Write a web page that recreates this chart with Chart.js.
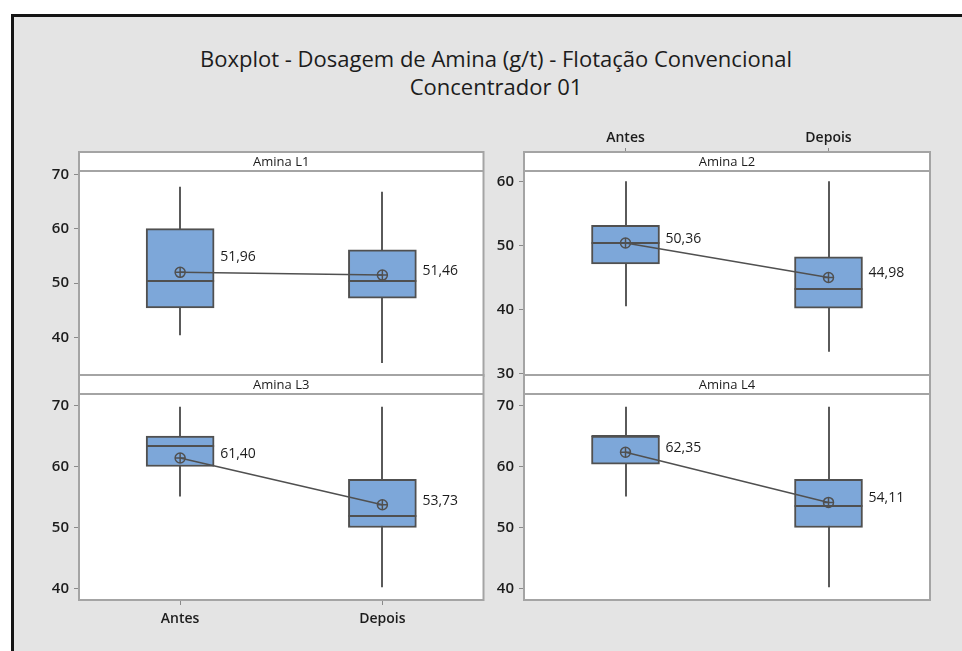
<!DOCTYPE html>
<html>
<head>
<meta charset="utf-8">
<script src="https://cdn.jsdelivr.net/npm/chart.js@4.4.0/dist/chart.umd.min.js"></script>
<style>
  html, body { margin: 0; padding: 0; background: #ffffff; width: 962px; height: 651px; overflow: hidden; }
  #frame { position: absolute; left: 11px; top: 14px; width: 1000px; height: 700px; border: 3px solid #141414; background: #e4e4e4; box-sizing: border-box; }
  #title { position: absolute; left: 0; width: 992px; top: 44px; text-align: center; font-family: "Open Sans", sans-serif; font-size: 22px; line-height: 28px; color: #1c1c1c; }
  canvas { position: absolute; }
</style>
</head>
<body>
<div id="frame"></div>
<div id="title">Boxplot - Dosagem de Amina (g/t) - Flotação Convencional<br>Concentrador 01</div>
<canvas id="p1" width="460" height="260" style="left:30px;top:130px"></canvas>
<canvas id="p2" width="465" height="280" style="left:475px;top:110px"></canvas>
<canvas id="p3" width="460" height="281" style="left:30px;top:370px"></canvas>
<canvas id="p4" width="465" height="281" style="left:475px;top:370px"></canvas>
<script>
// Categories and panel names
const categories = ['Antes', 'Depois'];
const panelNames = ['Amina L1', 'Amina L2', 'Amina L3', 'Amina L4'];

// Box statistics per panel (rows: L1..L4, columns: Antes, Depois)
const whiskerLow  = [[40.4, 35.3], [40.5, 33.4], [55.1, 40.2], [55.1, 40.2]];
const q1          = [[45.4, 47.2], [47.1, 40.2], [60.0, 50.0], [60.4, 50.0]];
const medians     = [[50.3, 50.3], [50.3, 43.2], [63.4, 51.9], [65.0, 53.6]];
const q3          = [[60.0, 56.1], [53.1, 48.2], [65.0, 57.9], [65.0, 57.9]];
const whiskerHigh = [[67.7, 66.8], [60.0, 60.0], [69.8, 69.8], [69.8, 69.8]];
const means       = [[51.96, 51.46], [50.36, 44.98], [61.40, 53.73], [62.35, 54.11]];

// Y tick labels and axis ranges per panel
const yTicks  = [[40, 50, 60, 70], [30, 40, 50, 60], [40, 50, 60, 70], [40, 50, 60, 70]];
const yRanges = [[32.9, 70.6], [29.6, 61.6], [38.1, 71.9], [38.1, 71.9]];

const FONT = '"Open Sans", sans-serif';
const LINE = '#505050';
const STRIP_H = 19;

const fmt = v => v.toFixed(2).replace('.', ',');

const panelDecor = {
  id: 'panelDecor',
  beforeDatasetsDraw(chart, args, opts) {
    const { ctx, chartArea: a } = chart;
    const i = opts.panel;
    const xs = chart.scales.x, ys = chart.scales.y;
    ctx.save();
    // white plot + strip background
    ctx.fillStyle = '#ffffff';
    ctx.fillRect(a.left, a.top - STRIP_H, a.right - a.left, a.bottom - a.top + STRIP_H);
    // whiskers
    ctx.strokeStyle = '#5a5a5a';
    ctx.lineWidth = 2;
    categories.forEach((c, k) => {
      const x = Math.round(xs.getPixelForValue(k));
      ctx.beginPath();
      ctx.moveTo(x, ys.getPixelForValue(whiskerHigh[i][k]));
      ctx.lineTo(x, ys.getPixelForValue(whiskerLow[i][k]));
      ctx.stroke();
    });
    ctx.restore();
  },
  afterDatasetDraw(chart, args, opts) {
    if (args.index !== 0) return;
    const { ctx } = chart;
    const i = opts.panel;
    const ys = chart.scales.y;
    const meta = chart.getDatasetMeta(0);
    ctx.save();
    ctx.strokeStyle = LINE;
    ctx.lineWidth = 2;
    meta.data.forEach((bar, k) => {
      const y = Math.round(ys.getPixelForValue(medians[i][k]));
      const half = bar.width / 2;
      ctx.beginPath();
      ctx.moveTo(bar.x - half, y);
      ctx.lineTo(bar.x + half, y);
      ctx.stroke();
    });
    ctx.restore();
  },
  afterDraw(chart, args, opts) {
    const { ctx, chartArea: a } = chart;
    const i = opts.panel;
    const xs = chart.scales.x, ys = chart.scales.y;
    ctx.save();
    // panel frame and strip
    ctx.strokeStyle = '#a4a4a4';
    ctx.lineWidth = 2;
    ctx.strokeRect(a.left, a.top - STRIP_H, a.right - a.left, a.bottom - a.top + STRIP_H);
    ctx.beginPath();
    ctx.moveTo(a.left, a.top);
    ctx.lineTo(a.right, a.top);
    ctx.stroke();
    ctx.fillStyle = '#1c1c1c';
    ctx.font = '13px ' + FONT;
    ctx.textAlign = 'center';
    ctx.textBaseline = 'middle';
    ctx.fillText(panelNames[i], (a.left + a.right) / 2, a.top - STRIP_H / 2 + 0.5);
    // mean value labels
    ctx.font = '14px ' + FONT;
    ctx.textAlign = 'left';
    const px = categories.map((c, k) => xs.getPixelForValue(k));
    const py = means[i].map(v => ys.getPixelForValue(v));
    means[i].forEach((v, k) => {
      const lx = px[k] + 40;
      let ly = py[k] - 4;
      if (k < categories.length - 1) {
        const w = ctx.measureText(fmt(v)).width;
        const cx = lx + w / 2;
        const lineY = py[k] + (py[k + 1] - py[k]) * (cx - px[k]) / (px[k + 1] - px[k]);
        if (Math.abs(lineY - ly) < 9) ly = lineY - 16;
      }
      ctx.fillText(fmt(v), lx, ly);
    });
    ctx.restore();
  }
};

function makePanel(i, id, cfg) {
  const boxes = categories.map((c, k) => [q1[i][k], q3[i][k]]);
  const tickFont = { family: FONT, size: 15, weight: '600' };
  new Chart(document.getElementById(id), {
    type: 'bar',
    data: {
      labels: categories,
      datasets: [
        { type: 'bar', data: boxes, backgroundColor: '#7DA7D9', borderColor: LINE, borderWidth: 2,
          borderSkipped: false, barThickness: 68, order: 3 },
        { type: 'line', data: means[i], borderColor: LINE, borderWidth: 1.5, pointStyle: 'circle',
          pointRadius: 5, pointBorderWidth: 1.5, pointBackgroundColor: 'rgba(0,0,0,0)',
          pointBorderColor: LINE, order: 2 },
        { type: 'line', data: means[i], showLine: false, pointStyle: 'cross', pointRadius: 5,
          pointBorderWidth: 1.5, pointBorderColor: LINE, order: 1 }
      ]
    },
    options: {
      responsive: false,
      animation: false,
      events: [],
      layout: { padding: cfg.padding },
      plugins: {
        legend: { display: false },
        tooltip: { enabled: false },
        panelDecor: { panel: i }
      },
      scales: {
        x: {
          type: 'category',
          offset: true,
          display: !!cfg.xPos,
          position: cfg.xPos || 'bottom',
          grid: { offset: false, drawOnChartArea: false, drawTicks: true, tickLength: cfg.xTick || 5, color: '#8a8a8a' },
          border: { display: false },
          ticks: { font: { family: FONT, size: 14, weight: '600' }, color: '#1c1c1c', padding: cfg.xPad || 6, maxRotation: 0 },
          afterFit(s) { if (cfg.xHeight) s.height = cfg.xHeight; }
        },
        y: {
          min: yRanges[i][0],
          max: yRanges[i][1],
          afterBuildTicks(s) { s.ticks = yTicks[i].map(v => ({ value: v })); },
          grid: { drawOnChartArea: false, drawTicks: true, tickLength: 5, color: '#8a8a8a' },
          border: { display: false },
          ticks: { font: tickFont, color: '#1c1c1c', padding: 5 },
          afterFit(s) { s.width = 49; }
        }
      }
    },
    plugins: [panelDecor]
  });
}

makePanel(0, 'p1', { padding: { top: 41, bottom: 14, left: 0, right: 5 } });
makePanel(1, 'p2', { padding: { top: 0, bottom: 14, left: 0, right: 10 }, xPos: 'top', xHeight: 61, xTick: 23, xPad: 2 });
makePanel(2, 'p3', { padding: { top: 24, bottom: 6, left: 0, right: 5 }, xPos: 'bottom', xHeight: 45, xTick: 5, xPad: 6 });
makePanel(3, 'p4', { padding: { top: 24, bottom: 51, left: 0, right: 10 } });
</script>
</body>
</html>
